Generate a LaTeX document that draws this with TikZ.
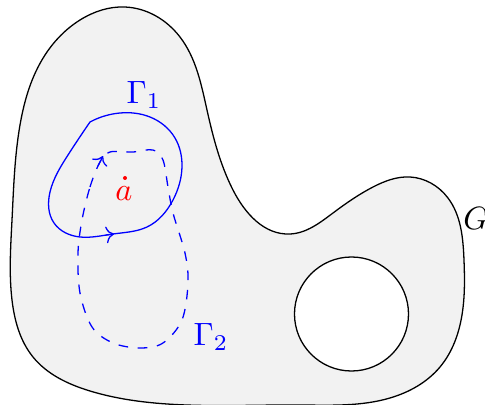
\documentclass[tikz,border=0pt]{standalone}
\usetikzlibrary{arrows.meta,hobby}
\definecolor{regiongray}{RGB}{242,242,242}
\begin{document}
\begin{tikzpicture}[x=0.31pt,y=-0.31pt,
  outline/.style={draw=black,line width=0.4pt},
  gammaline/.style={draw=blue,line width=0.4pt},
  tipmark/.style={draw=blue,line width=0.4pt,->},
  lbl/.style={inner sep=0pt}]
\useasboundingbox (0,0) rectangle (485,405);
% region G
\path[outline,fill=regiongray,use Hobby shortcut,closed=true]
  (125,7) .. (180,37) .. (207,110) .. (233,190) .. (290,234)
  .. (333,213) .. (373,187) .. (410,177) .. (448,198) .. (464,260)
  .. (462,315) .. (440,367) .. (390,398) .. (300,405) .. (167,404)
  .. (90,391) .. (33,357) .. (12,300) .. (12,220) .. (20,125)
  .. (45,55) .. (80,20);
% hole
\draw[outline,fill=white] (351.5,314) circle (57);
% Gamma 1
\path[gammaline,use Hobby shortcut]
  (90,122) .. (68,155) .. (50,192) .. (54,223) .. (80,237) .. (113,234)
  .. (147,227) .. (173,200) .. (182,167) .. (175,138) .. (150,117)
  .. (120,113) .. (90,122);
\coordinate (t1a) at (106,235);
\coordinate (t1b) at (114,234);
\draw[tipmark] (t1a) -- (t1b);
% Gamma 2
\path[gammaline,dashed]
  plot[smooth cycle,tension=0.55] coordinates {
  (82,220) (90,187) (100,162) (110,152) (133,152) (153,150) (163,160)
  (168,187) (173,213) (185,253) (188,283) (182,320) (163,343) (140,348)
  (113,343) (92,327) (80,293) (78,253)};
\coordinate (t2a) at (98,166);
\coordinate (t2b) at (103,156);
\draw[tipmark] (t2a) -- (t2b);
% point a
\fill[red] (125,178) circle (2);
\node[lbl,text=red] (la) at (124,194) {$a$};
\node[lbl,text=blue] (lg1) at (144,95) {$\Gamma_1$};
\node[lbl,text=blue] (lg2) at (211,337) {$\Gamma_2$};
\node[lbl] (lG) at (476,218) {$G$};
\end{tikzpicture}
\end{document}
